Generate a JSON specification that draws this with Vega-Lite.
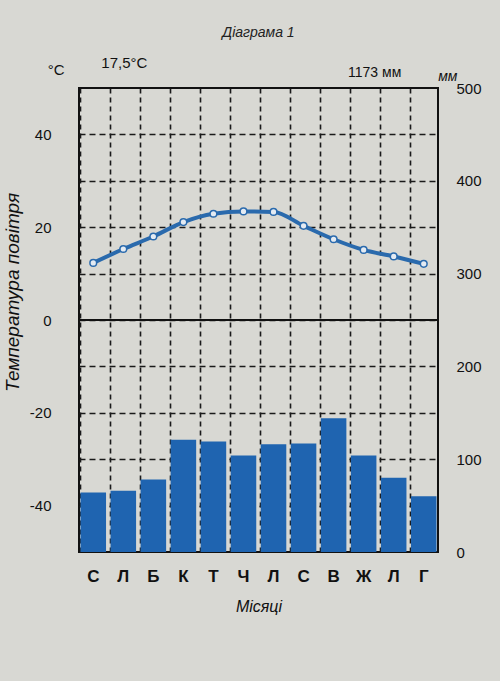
{
  "$schema": "https://vega.github.io/schema/vega-lite/v6.json",
  "width": 359,
  "height": 464,
  "autosize": {"type": "none"},
  "padding": {"left": 79, "top": 88, "right": 62, "bottom": 129},
  "background": "#d8d8d3",
  "config": {
    "font": "Liberation Sans",
    "view": {"stroke": "#111111", "strokeWidth": 2, "fill": null},
    "axis": {"labelColor": "#111111", "titleColor": "#111111", "labelFont": "Liberation Sans", "titleFont": "Liberation Sans"}
  },
  "title": {
    "text": "Діаграма 1",
    "fontStyle": "italic",
    "fontWeight": "normal",
    "fontSize": 14,
    "color": "#222222",
    "anchor": "middle",
    "offset": 16
  },
  "data": {
    "values": [
      {"month": "Січень", "temp": 12.3, "precip": 64},
      {"month": "Лютий", "temp": 15.3, "precip": 66},
      {"month": "Березень", "temp": 18.0, "precip": 78},
      {"month": "Квітень", "temp": 21.1, "precip": 121},
      {"month": "Травень", "temp": 22.9, "precip": 119},
      {"month": "Червень", "temp": 23.4, "precip": 104},
      {"month": "Липень", "temp": 23.3, "precip": 116},
      {"month": "Серпень", "temp": 20.3, "precip": 117},
      {"month": "Вересень", "temp": 17.4, "precip": 144},
      {"month": "Жовтень", "temp": 15.1, "precip": 104},
      {"month": "Листопад", "temp": 13.7, "precip": 80},
      {"month": "Грудень", "temp": 12.1, "precip": 60}
    ]
  },
  "layer": [
    {
      "mark": {"type": "bar", "color": "#1f64b0"},
      "encoding": {
        "x": {
          "field": "month",
          "type": "nominal",
          "sort": null,
          "scale": {"paddingInner": 0.15, "paddingOuter": 0.05},
          "axis": {
            "orient": "bottom",
            "domain": false,
            "ticks": false,
            "grid": true,
            "gridDash": [5, 4],
            "gridColor": "#1a1a1a",
            "gridWidth": 1.6,
            "bandPosition": 0,
            "labelAngle": 0,
            "labelExpr": "upper(substring(datum.label, 0, 1))",
            "labelFontSize": 17,
            "labelFontWeight": "bold",
            "labelPadding": 16,
            "title": "Місяці",
            "titleFontSize": 16,
            "titleFontStyle": "italic",
            "titleFontWeight": "normal",
            "titlePadding": 14
          }
        },
        "y": {
          "field": "precip",
          "type": "quantitative",
          "scale": {"domain": [0, 500], "nice": false},
          "axis": {
            "orient": "right",
            "values": [0, 100, 200, 300, 400, 500],
            "domain": false,
            "ticks": false,
            "grid": false,
            "labelFontSize": 15,
            "labelPadding": 18,
            "title": null
          }
        }
      }
    },
    {
      "layer": [
        {
          "data": {"values": [{}]},
          "mark": {"type": "rule", "color": "#111111", "strokeWidth": 2.2},
          "encoding": {"y": {"datum": 0, "type": "quantitative"}}
        },
        {
          "mark": {"type": "line", "color": "#2a6aad", "strokeWidth": 4, "interpolate": "monotone"},
          "encoding": {
            "x": {"field": "month", "type": "nominal", "sort": null},
            "y": {
              "field": "temp",
              "type": "quantitative",
              "scale": {"domain": [-50, 50], "nice": false},
              "axis": {
                "orient": "left",
                "values": [-40, -30, -20, -10, 0, 10, 20, 30, 40],
                "labelExpr": "datum.value % 20 == 0 ? replace(datum.label, '−', '-') : ''",
                "domain": false,
                "ticks": false,
                "grid": true,
                "gridDash": [6, 4],
                "gridColor": "#1a1a1a",
                "gridWidth": 1.6,
                "labelFontSize": 15,
                "labelPadding": 28,
                "title": "Температура повітря",
                "titleFontSize": 19,
                "titleFontStyle": "italic",
                "titleFontWeight": "normal",
                "titleAngle": 270,
                "titleX": -67,
                "titleY": 204,
                "titleBaseline": "middle",
                "titleAlign": "center"
              }
            }
          }
        },
        {
          "mark": {"type": "point", "filled": true, "fill": "#e4ebf3", "stroke": "#2a6aad", "strokeWidth": 1.5, "size": 45, "opacity": 1},
          "encoding": {
            "x": {"field": "month", "type": "nominal", "sort": null},
            "y": {"field": "temp", "type": "quantitative"}
          }
        },
        {
          "data": {"values": [{}]},
          "mark": {"type": "text", "text": "°C", "fontSize": 15, "dx": -37, "color": "#111111", "baseline": "middle"},
          "encoding": {"x": {"datum": "Січень"}, "y": {"datum": 53.9, "type": "quantitative"}}
        },
        {
          "data": {"values": [{}]},
          "mark": {"type": "text", "text": "17,5°C", "fontSize": 15, "dx": 1, "color": "#111111", "baseline": "middle"},
          "encoding": {"x": {"datum": "Лютий"}, "y": {"datum": 55.4, "type": "quantitative"}}
        },
        {
          "data": {"values": [{}]},
          "mark": {"type": "text", "text": "1173 мм", "fontSize": 14, "dx": 11, "color": "#111111", "baseline": "middle"},
          "encoding": {"x": {"datum": "Жовтень"}, "y": {"datum": 53.2, "type": "quantitative"}}
        },
        {
          "data": {"values": [{}]},
          "mark": {"type": "text", "text": "мм", "fontSize": 14, "fontStyle": "italic", "dx": 24, "color": "#111111", "baseline": "middle"},
          "encoding": {"x": {"datum": "Грудень"}, "y": {"datum": 52.4, "type": "quantitative"}}
        }
      ]
    }
  ],
  "resolve": {"scale": {"y": "independent"}, "axis": {"y": "independent"}}
}
